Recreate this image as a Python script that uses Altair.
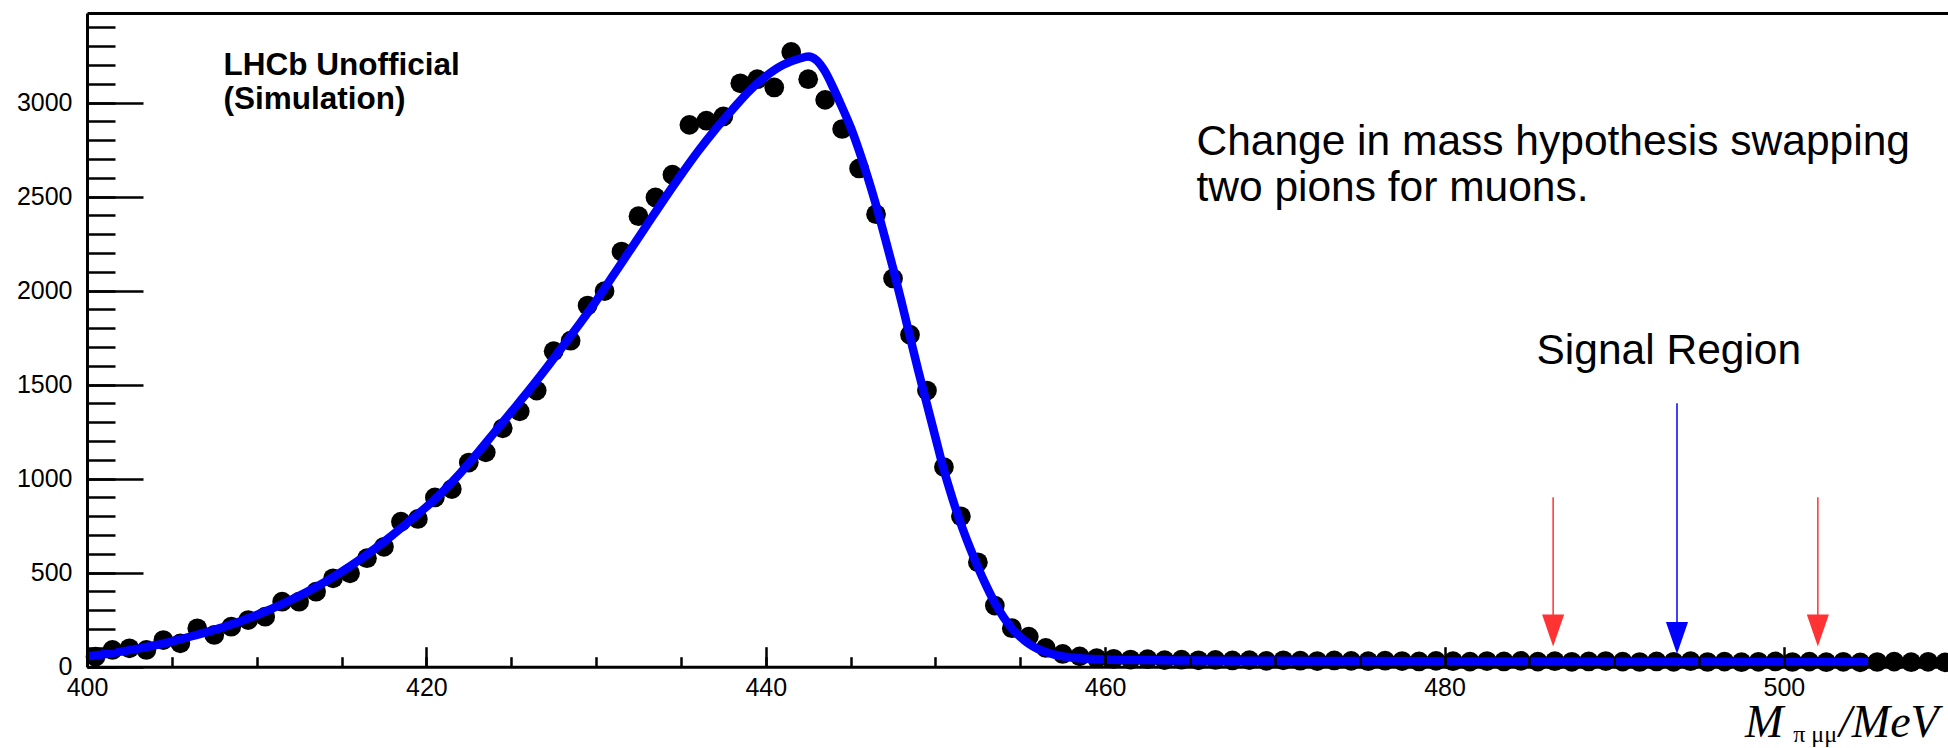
import altair as alt
import pandas as pd

# Bin centres (MeV) of the swapped-hypothesis mass histogram
MASS = [
    400.5, 401.5, 402.5, 403.5, 404.5, 405.5, 406.5, 407.5, 408.5, 409.5,
    410.5, 411.5, 412.5, 413.5, 414.5, 415.5, 416.5, 417.5, 418.5, 419.5,
    420.5, 421.5, 422.5, 423.5, 424.5, 425.5, 426.5, 427.5, 428.5, 429.5,
    430.5, 431.5, 432.5, 433.5, 434.5, 435.5, 436.5, 437.5, 438.5, 439.5,
    440.5, 441.5, 442.5, 443.5, 444.5, 445.5, 446.5, 447.5, 448.5, 449.5,
    450.5, 451.5, 452.5, 453.5, 454.5, 455.5, 456.5, 457.5, 458.5, 459.5,
    460.5, 461.5, 462.5, 463.5, 464.5, 465.5, 466.5, 467.5, 468.5, 469.5,
    470.5, 471.5, 472.5, 473.5, 474.5, 475.5, 476.5, 477.5, 478.5, 479.5,
    480.5, 481.5, 482.5, 483.5, 484.5, 485.5, 486.5, 487.5, 488.5, 489.5,
    490.5, 491.5, 492.5, 493.5, 494.5, 495.5, 496.5, 497.5, 498.5, 499.5,
    500.5, 501.5, 502.5, 503.5, 504.5, 505.5, 506.5, 507.5, 508.5, 509.5,
]
# Entries per bin
COUNTS = [
    53, 89, 98, 89, 142, 124, 204, 169, 213, 248,
    266, 346, 346, 399, 470, 497, 577, 638, 771, 786,
    900, 945, 1086, 1140, 1268, 1358, 1469, 1678, 1734, 1921,
    1998, 2208, 2396, 2496, 2617, 2882, 2904, 2927, 3103, 3125,
    3081, 3270, 3125, 3015, 2860, 2650, 2407, 2065, 1766, 1469,
    1062, 800, 555, 325, 205, 160, 100, 68, 55, 45,
    42, 38, 40, 35, 37, 34, 36, 33, 35, 31,
    34, 32, 30, 33, 31, 29, 32, 30, 28, 31,
    29, 27, 30, 28, 31, 27, 29, 26, 28, 30,
    27, 25, 28, 26, 29, 25, 27, 24, 26, 28,
    25, 27, 24, 26, 23, 25, 27, 24, 26, 23,
]

# Fitted lineshape sampled along the mass axis
FIT_MASS = [
    400, 401, 402, 403, 404, 405, 406, 407, 408, 409,
    410, 411, 412, 413, 414, 415, 416, 417, 418, 419,
    420, 421, 422, 423, 424, 425, 426, 427, 428, 429,
    430, 431, 432, 433, 434, 435, 436, 437, 438, 439,
    440, 441, 442, 442.5, 443, 443.5, 444, 444.5, 445, 445.5,
    446, 446.5, 447, 447.5, 448, 448.5, 449, 449.5, 450, 450.5,
    451, 451.5, 452, 452.5, 453, 453.5, 454, 454.5, 455, 455.5,
    456, 456.5, 457, 457.5, 458, 459, 460, 462, 465, 470,
    475, 480, 485, 490, 495, 500, 505,
]
FIT_VALUE = [
    55, 66, 80, 96, 114, 135, 158, 183, 210, 240,
    275, 313, 355, 400, 450, 505, 565, 630, 700, 775,
    850, 935, 1030, 1135, 1245, 1355, 1465, 1580, 1700, 1820,
    1945, 2080, 2215, 2350, 2485, 2615, 2740, 2855, 2960, 3060,
    3140, 3200, 3235, 3245, 3225, 3165, 3075, 2975, 2870, 2745,
    2606, 2455, 2290, 2120, 1940, 1755, 1570, 1395, 1220, 1045,
    895, 760, 640, 530, 430, 340, 265, 205, 158, 122,
    96, 78, 64, 55, 49, 42, 38, 35, 33, 31,
    30, 28, 27, 26, 26, 25, 24,
]

# Signal-region markers: sidebands (red) and centre (blue)
ARROW_MASS = [486.4, 493.7, 502.0]
ARROW_TOP = [901, 1401, 901]
ARROW_BASE = [260, 225, 260]
ARROW_HEAD = [192, 153, 192]
ARROW_COLOR = ["#ff3333", "#0000ff", "#ff3333"]

# Axis tick positions
X_MAJOR = [400, 420, 440, 460, 480, 500]
X_MINOR = [400, 405, 410, 415, 420, 425, 430, 435, 440, 445, 450,
           455, 460, 465, 470, 475, 480, 485, 490, 495, 500, 505]
Y_MAJOR = [0, 500, 1000, 1500, 2000, 2500, 3000]
Y_MINOR = [0, 100, 200, 300, 400, 500, 600, 700, 800, 900, 1000,
           1100, 1200, 1300, 1400, 1500, 1600, 1700, 1800, 1900, 2000,
           2100, 2200, 2300, 2400, 2500, 2600, 2700, 2800, 2900, 3000,
           3100, 3200, 3300, 3400]

# Annotations (positions in data units)
STAMP_TEXT = ["LHCb Unofficial", "(Simulation)"]
STAMP_X = [408.05, 408.05]
STAMP_Y = [3147, 2966]
NOTE_TEXT = ["Change in mass hypothesis swapping", "two pions for muons.", "Signal Region"]
NOTE_X = [465.38, 465.38, 485.42]
NOTE_Y = [2720, 2475, 1610]

# Axis title pieces: M, subscript, unit
TITLE_TEXT = ["M", "π μμ", "/MeV"]
TITLE_X = [497.70, 500.55, 503.25]
TITLE_Y = [-374, -398, -374]

SANS = "Liberation Sans"
SERIF = "Liberation Serif"

points_df = pd.DataFrame({"mass": MASS, "count": COUNTS})
fit_df = pd.DataFrame({"mass": FIT_MASS, "fit": FIT_VALUE})
arrow_df = pd.DataFrame({"mass": ARROW_MASS, "top": ARROW_TOP, "base": ARROW_BASE,
                         "head": ARROW_HEAD, "color": ARROW_COLOR})
stamp_df = pd.DataFrame({"label": STAMP_TEXT, "x": STAMP_X, "y": STAMP_Y})
note_df = pd.DataFrame({"label": NOTE_TEXT, "x": NOTE_X, "y": NOTE_Y})
title_df = pd.DataFrame({"label": TITLE_TEXT, "x": TITLE_X, "y": TITLE_Y})

xs = alt.Scale(domain=[400, 509.67], nice=False, zero=False)
ys = alt.Scale(domain=[0, 3477], nice=False, zero=False)

common_axis = dict(grid=False, title=None, zindex=1, tickColor="black", tickWidth=2.5,
                   domainColor="black", domainWidth=3, labelFlush=False,
                   labelOverlap=False, labelBound=False)

# Data points, carrying the labelled major ticks (drawn inward)
points = alt.Chart(points_df).mark_circle(size=390, color="black", opacity=1).encode(
    x=alt.X("mass:Q", scale=xs, axis=alt.Axis(
        orient="bottom", values=X_MAJOR, offset=-20, tickSize=20, domain=False,
        labelFont=SANS, labelFontSize=25, labelColor="black", labelPadding=9,
        format="d", **common_axis)),
    y=alt.Y("count:Q", scale=ys, axis=alt.Axis(
        orient="left", values=Y_MAJOR, offset=-56, tickSize=56, domain=False,
        labelFont=SANS, labelFontSize=25, labelColor="black", labelPadding=15,
        format="d", **common_axis)),
)

# Fit curve, carrying the minor ticks
fit = alt.Chart(fit_df).mark_line(color="#0000ff", strokeWidth=8.5, interpolate="monotone").encode(
    x=alt.X("mass:Q", scale=xs, axis=alt.Axis(
        orient="bottom", values=X_MINOR, offset=-10, tickSize=10, domain=False,
        labels=False, **common_axis)),
    y=alt.Y("fit:Q", scale=ys, axis=alt.Axis(
        orient="left", values=Y_MINOR, offset=-28, tickSize=28, domain=False,
        labels=False, **common_axis)),
)

# Arrow shafts, carrying the frame lines on the left and bottom
shafts = alt.Chart(arrow_df).mark_rule(strokeWidth=1.5).encode(
    x=alt.X("mass:Q", scale=xs, axis=alt.Axis(
        orient="bottom", ticks=False, labels=False, domain=True, **common_axis)),
    y=alt.Y("top:Q", scale=ys, axis=alt.Axis(
        orient="left", ticks=False, labels=False, domain=True, **common_axis)),
    y2="base:Q",
    color=alt.Color("color:N", scale=None),
)

# Arrow heads, carrying the top frame line
heads = alt.Chart(arrow_df).mark_point(
    shape="M-0.69,-1L0.69,-1L0,1Z", size=1024, filled=True, opacity=1, strokeWidth=0
).encode(
    x=alt.X("mass:Q", scale=xs, axis=alt.Axis(
        orient="top", ticks=False, labels=False, domain=True, **common_axis)),
    y=alt.Y("head:Q", scale=ys, axis=None),
    color=alt.Color("color:N", scale=None),
)

stamp = alt.Chart(stamp_df).mark_text(
    align="left", baseline="alphabetic", font=SANS, fontSize=31.5, fontWeight="bold", color="black"
).encode(
    x=alt.X("x:Q", scale=xs, axis=None),
    y=alt.Y("y:Q", scale=ys, axis=None),
    text="label:N",
)

notes = alt.Chart(note_df).mark_text(
    align="left", baseline="alphabetic", font=SANS, fontSize=42.5, color="black"
).encode(
    x=alt.X("x:Q", scale=xs, axis=None),
    y=alt.Y("y:Q", scale=ys, axis=None),
    text="label:N",
)

# Axis title M_{pi mu mu} / MeV: italic main symbol and unit, upright subscript
title_base = alt.Chart(title_df).encode(
    x=alt.X("x:Q", scale=xs, axis=None),
    y=alt.Y("y:Q", scale=ys, axis=None),
    text="label:N",
)
title_big = title_base.transform_filter(alt.datum.label != "π μμ").mark_text(
    align="left", baseline="alphabetic", font=SERIF, fontSize=46, fontStyle="italic", color="black"
)
title_sub = title_base.transform_filter(alt.datum.label == "π μμ").mark_text(
    align="left", baseline="alphabetic", font=SERIF, fontSize=24, color="black"
)

chart = alt.layer(
    points, fit, shafts, heads, stamp, notes, title_big, title_sub
).resolve_axis(
    x="independent", y="independent"
).properties(
    width=1861,
    height=653.7,
    padding={"left": 87, "top": 13, "right": 0, "bottom": 81.3},
    autosize=alt.AutoSizeParams(type="none"),
    background="white",
).configure_view(stroke=None)

chart.save("out.html", embed_options={"renderer": "svg", "actions": False})
